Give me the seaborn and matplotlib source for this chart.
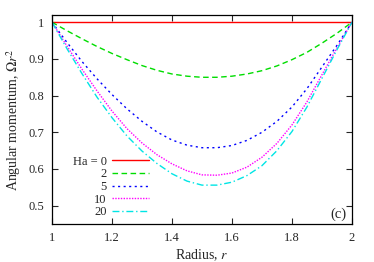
import matplotlib
matplotlib.use("Agg")
import matplotlib.pyplot as plt
import pandas as pd
import seaborn as sns

# radius values and angular momentum
radius = [1.00, 1.05, 1.10, 1.15, 1.20, 1.25, 1.30, 1.35, 1.40, 1.45, 1.50,
          1.55, 1.60, 1.65, 1.70, 1.75, 1.80, 1.85, 1.90, 1.95, 2.00]
ha0 = [1.0] * 21
ha2 = [1.000, 0.977, 0.955, 0.934, 0.915, 0.898, 0.882, 0.869, 0.859, 0.853, 0.850,
       0.850, 0.853, 0.859, 0.868, 0.881, 0.898, 0.918, 0.943, 0.970, 1.000]
ha5 = [1.000, 0.945, 0.893, 0.846, 0.803, 0.764, 0.730, 0.701, 0.679, 0.665, 0.658,
       0.658, 0.664, 0.678, 0.700, 0.730, 0.769, 0.819, 0.878, 0.937, 1.000]
ha10 = [1.000, 0.935, 0.872, 0.813, 0.758, 0.710, 0.671, 0.639, 0.614, 0.595, 0.584,
        0.583, 0.589, 0.605, 0.632, 0.670, 0.720, 0.783, 0.857, 0.930, 1.000]
ha20 = [1.000, 0.928, 0.860, 0.796, 0.740, 0.690, 0.649, 0.615, 0.587, 0.567, 0.556,
        0.556, 0.564, 0.582, 0.609, 0.650, 0.702, 0.769, 0.847, 0.925, 1.000]

labels = ["Ha = 0", "2", "5", "10", "20"]
xticks = [1, 1.2, 1.4, 1.6, 1.8, 2]
xticklabels = ["1", "1.2", "1.4", "1.6", "1.8", "2"]
yticks = [0.5, 0.6, 0.7, 0.8, 0.9, 1]
yticklabels = ["0.5", "0.6", "0.7", "0.8", "0.9", "1"]

frames = []
for lab, vals in zip(labels, [ha0, ha2, ha5, ha10, ha20]):
    frames.append(pd.DataFrame({"r": radius, "L": vals, "Ha": lab}))
df = pd.concat(frames, ignore_index=True)

sns.set_style("ticks")
plt.rcParams["font.family"] = ["Liberation Serif", "DejaVu Serif"]
plt.rcParams["mathtext.fontset"] = "stix"

colors = {"Ha = 0": "#ff0000", "2": "#00dd00", "5": "#0000ff",
          "10": "#ff00ff", "20": "#00e5e5"}
dashes = {"Ha = 0": "", "2": (4, 2.5), "5": (1.5, 2.5),
          "10": (1, 1), "20": (5, 2, 1, 2)}

fig = plt.figure(figsize=(3.74, 2.62), dpi=100)
ax = fig.add_axes([0.139, 0.145, 0.802, 0.798])

sns.lineplot(data=df, x="r", y="L", hue="Ha", style="Ha", palette=colors,
             dashes=dashes, hue_order=labels, style_order=labels,
             linewidth=1.0, legend=False, ax=ax, errorbar=None)

ax.set_xlim(1, 2)
ax.set_ylim(0.45, 1.02)
ax.set_xticks(xticks)
ax.set_xticklabels(xticklabels)
ax.set_yticks(yticks)
ax.set_yticklabels(yticklabels)
ax.tick_params(direction="in", top=True, right=True, length=4, width=0.8,
               labelsize=9, pad=5.5)
for s in ax.spines.values():
    s.set_linewidth(0.9)
    s.set_color("black")

ax.set_xlabel("Radius, $r$", fontsize=10, labelpad=3)
ax.set_ylabel(r"Angular momentum, $\Omega r^2$", fontsize=10, labelpad=4)

leg = ax.legend(ax.get_lines(), labels, markerfirst=False, frameon=False,
                loc="center right", bbox_to_anchor=(0.322, 0.177),
                fontsize=9, handlelength=2.9, handletextpad=0.45,
                labelspacing=0.05, borderpad=0, borderaxespad=0)

ax.text(0.955, 0.045, "(c)", transform=ax.transAxes, ha="center",
        va="center", fontsize=10.5)

fig.savefig("out.png", dpi=100)
